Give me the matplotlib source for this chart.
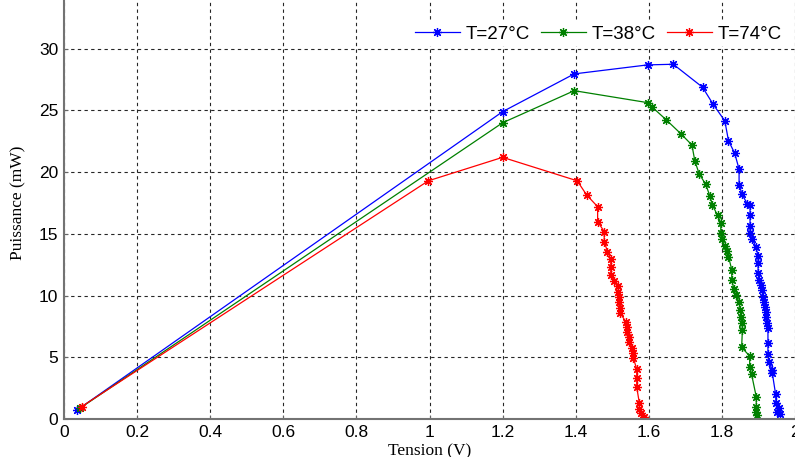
import numpy as np
import matplotlib
matplotlib.use("Agg")
import matplotlib.pyplot as plt

# data (Tension in V, Puissance in mW)
v27 = [0.036, 1.2, 1.396, 1.597, 1.667, 1.747, 1.776, 1.808, 1.818, 1.835, 1.847, 1.847, 1.855,
       1.870, 1.877, 1.877, 1.877, 1.877, 1.883, 1.893, 1.899, 1.899, 1.899, 1.902, 1.906, 1.909,
       1.913, 1.915, 1.917, 1.920, 1.922, 1.924, 1.926, 1.926, 1.926, 1.929, 1.938, 1.938, 1.947,
       1.948, 1.952, 1.955, 1.958]
p27 = [0.73, 24.9, 27.96, 28.69, 28.74, 26.88, 25.50, 24.15, 22.55, 21.53, 20.24, 18.99, 18.21,
       17.4, 17.3, 16.5, 15.64, 15.05, 14.56, 13.97, 13.2, 12.6, 11.86, 11.3, 10.86, 10.45,
       9.9, 9.5, 9.1, 8.7, 8.24, 7.75, 7.35, 6.13, 5.27, 4.59, 3.97, 3.7, 2.0,
       1.27, 0.6, 0.9, 0.4]

v38 = [0.045, 1.2, 1.396, 1.597, 1.61, 1.648, 1.688, 1.718, 1.726, 1.738, 1.756, 1.767, 1.774,
       1.788, 1.797, 1.797, 1.80, 1.808, 1.815, 1.818, 1.827, 1.827, 1.833, 1.838, 1.847, 1.850,
       1.853, 1.856, 1.856, 1.854, 1.876, 1.876, 1.881, 1.894, 1.894, 1.894, 1.895]
p38 = [0.9, 24.0, 26.6, 25.63, 25.25, 24.23, 23.1, 22.2, 20.9, 19.85, 19.0, 18.07, 17.34,
       16.5, 15.9, 15.1, 14.56, 14.0, 13.6, 13.15, 12.1, 11.26, 10.5, 10.05, 9.5, 8.8,
       8.24, 7.75, 7.2, 5.8, 5.1, 4.24, 3.65, 1.8, 1.0, 0.6, 0.3]

v74 = [0.048, 0.997, 1.2, 1.404, 1.43, 1.46, 1.46, 1.478, 1.478, 1.487, 1.496, 1.496, 1.496,
       1.506, 1.515, 1.517, 1.518, 1.519, 1.521, 1.522, 1.537, 1.539, 1.541, 1.545, 1.547,
       1.554, 1.556, 1.558, 1.567, 1.567, 1.567, 1.574, 1.574, 1.578, 1.587]
p74 = [1.0, 19.3, 21.2, 19.3, 18.15, 17.2, 16.0, 15.18, 14.37, 13.56, 12.94, 12.29, 11.67,
       11.2, 10.78, 10.32, 9.86, 9.5, 8.97, 8.56, 7.89, 7.48, 7.07, 6.67, 6.26,
       5.73, 5.37, 4.92, 4.03, 3.3, 2.57, 1.32, 0.79, 0.46, 0.19]

labels = ["T=27°C", "T=38°C", "T=74°C"]
colors = ["#0000ff", "#008000", "#ff0000"]

fig = plt.figure(figsize=(7.95, 4.57), dpi=100)
# axes top lies above the picture, as in the cropped reference
ax = fig.add_axes([64 / 795, 38 / 457, 731 / 795, 432 / 457])

asterisk = (8, 2, 0)
for v, p, c, lab in zip([v27, v38, v74], [p27, p38, p74], colors, labels):
    ax.plot(v, p, color=c, lw=0.9, marker=asterisk, ms=6.5, mew=0.9, label=lab)

ax.set_xlim(0, 2)
ax.set_ylim(0, 35)
ax.set_xticks(np.arange(0, 2.01, 0.2))
ax.set_xticklabels(["0", "0.2", "0.4", "0.6", "0.8", "1", "1.2", "1.4", "1.6", "1.8", "2"])
ax.set_yticks(np.arange(0, 31, 5))
ax.grid(True, color="0.15", linestyle=(0, (3, 3)), lw=0.8)
ax.tick_params(direction="in", length=3, color="0.4", labelsize=12.5, pad=4)
for lab in ax.get_xticklabels() + ax.get_yticklabels():
    lab.set_family("Liberation Sans")

for s in ["top", "right"]:
    ax.spines[s].set_visible(False)
for s in ["left", "bottom"]:
    ax.spines[s].set_color("0.45")
    ax.spines[s].set_linewidth(1.5)

ax.set_xlabel("Tension (V)", family="Liberation Serif", fontsize=12.5, labelpad=3)
ax.set_ylabel("Puissance (mW)", family="Liberation Serif", fontsize=12.5, labelpad=9)

leg = fig.legend(loc="center", bbox_to_anchor=(598 / 795, 1 - 34 / 457), ncol=3,
                 frameon=True, fancybox=False, facecolor="white", edgecolor="none",
                 framealpha=1.0, handlelength=2.4, handletextpad=0.3, columnspacing=0.6,
                 borderpad=0.2, prop={"family": "Liberation Sans", "size": 13.5})

fig.savefig("out.png", dpi=100)
